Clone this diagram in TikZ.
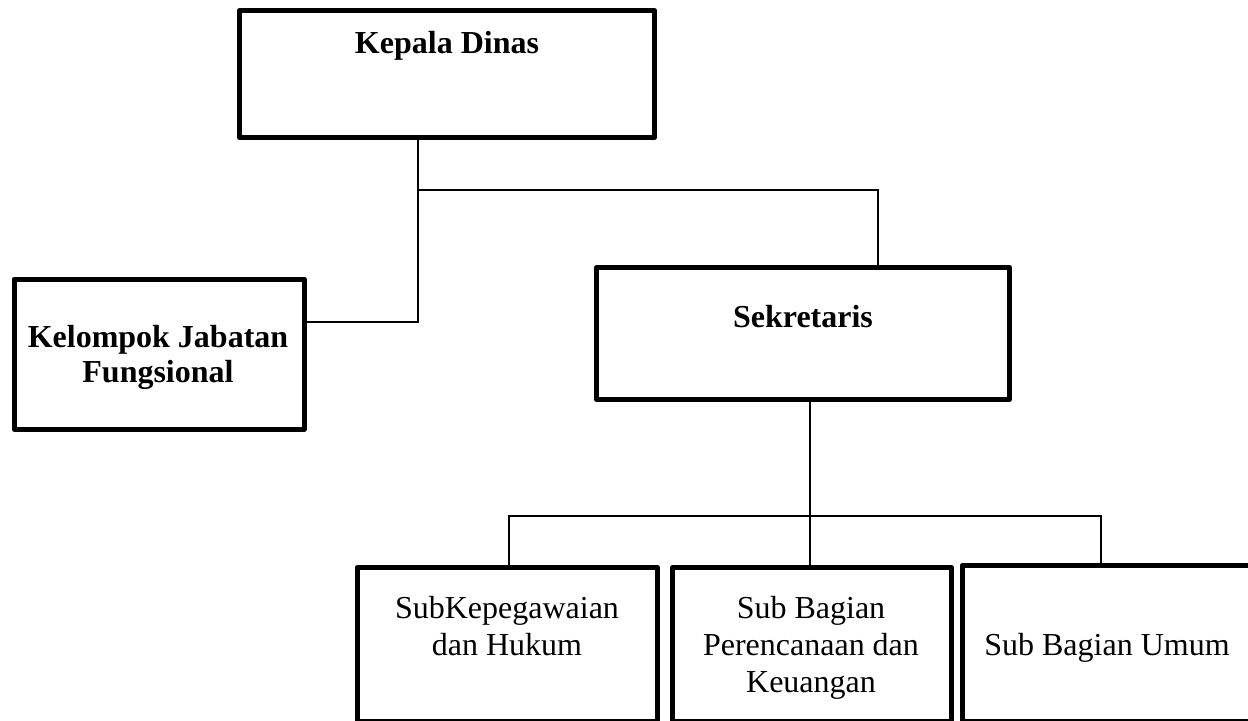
\documentclass[tikz,border=0pt]{standalone}
\usepackage{fontspec}
\setmainfont{Liberation Serif}
\begin{document}
\begin{tikzpicture}[
        x=0.5pt, y=-0.5pt,
        box/.style={draw, line width=2.5pt, line join=round, inner sep=0pt},
        link/.style={line width=1pt},
        head/.style={font=\fontsize{16}{17.5}\selectfont\bfseries, align=center, anchor=base},
        unit/.style={font=\fontsize{16}{18.5}\selectfont, align=center, anchor=base}
    ]
        \useasboundingbox (0,0) rectangle (1248,720);
        \clip (0,0) rectangle (1248,720);
        % Boxes of the organisation
        \node[box, minimum width=207.5pt, minimum height=63.5pt] (kepala) at (447,74) {};
        \node[box, minimum width=145pt, minimum height=75pt] (kelompok) at (159,354) {};
        \node[box, minimum width=206.5pt, minimum height=66pt] (sekretaris) at (803,333.5) {};
        \node[box, minimum width=150.25pt, minimum height=76.75pt] (subpeg) at (507.25,644.25) {};
        \node[box, minimum width=139.5pt, minimum height=76.75pt] (subren) at (812,644.25) {};
        \node[box, minimum width=150pt, minimum height=77.75pt] (subumum) at (1112,643.25) {};
        % Texts (base = last line)
        \node[head] (kepalatxt) at (447,53) {Kepala Dinas};
        \node[head] (kelompoktxt) at (158,382) {Kelompok Jabatan\\Fungsional};
        \node[head] (sekretaristxt) at (803,327) {Sekretaris};
        \node[unit] (subpegtxt) at (507,655) {SubKepegawaian\\dan Hukum};
        \node[unit] (subrentxt) at (811,692) {Sub Bagian\\Perencanaan dan\\Keuangan};
        \node[unit] (subumumtxt) at (1107,655) {Sub Bagian Umum};
        % Connectors
        \coordinate (j1) at (418,190);
        \coordinate (j2) at (878,190);
        \coordinate (j3) at (418,322);
        \coordinate (j4) at (810,516);
        \coordinate (j5) at (509,516);
        \coordinate (j6) at (1101,516);
        \draw[link] (kepala.south -| j1) -- (j1) -- (j2) -- (j2 |- sekretaris.north);
        \draw[link] (j1) -- (j3) -- (j3 -| kelompok.east);
        \draw[link] (sekretaris.south -| j4) -- (j4 |- subren.north);
        \draw[link] (j5 |- subpeg.north) -- (j5) -- (j6) -- (j6 |- subumum.north);
\end{tikzpicture}
\end{document}
